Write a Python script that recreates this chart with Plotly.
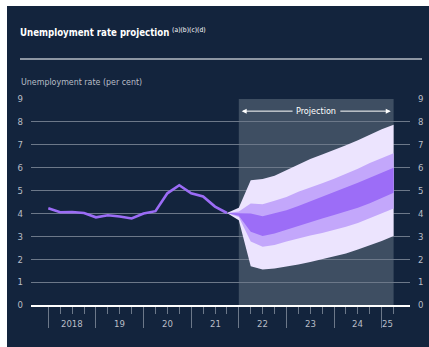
import plotly.graph_objects as go

# ---------------- data ----------------
hist_x = [2018.0, 2018.25, 2018.5, 2018.75, 2019.0, 2019.25, 2019.5, 2019.75,
          2020.0, 2020.25, 2020.5, 2020.75, 2021.0, 2021.25, 2021.5, 2021.75]
hist_rate = [4.23, 4.05, 4.06, 4.02, 3.83, 3.92, 3.87, 3.78,
             4.00, 4.10, 4.88, 5.23, 4.88, 4.74, 4.30, 4.02]

fan_x = [2021.75, 2022.0, 2022.25, 2022.5, 2022.75, 2023.0, 2023.25, 2023.5,
         2023.75, 2024.0, 2024.25, 2024.5, 2024.75, 2025.0, 2025.25]
outer_upper = [4.02, 4.25, 5.45, 5.50, 5.65, 5.90, 6.12, 6.38, 6.58, 6.77, 6.98, 7.20, 7.45, 7.68, 7.88]
middle_upper = [4.02, 4.08, 4.43, 4.40, 4.55, 4.72, 4.95, 5.12, 5.32, 5.52, 5.72, 5.95, 6.20, 6.42, 6.63]
inner_upper = [4.02, 4.00, 4.00, 3.88, 4.00, 4.14, 4.32, 4.52, 4.72, 4.94, 5.13, 5.34, 5.56, 5.78, 6.00]
inner_lower = [4.02, 3.90, 3.20, 3.02, 3.12, 3.28, 3.45, 3.62, 3.78, 3.93, 4.08, 4.25, 4.45, 4.67, 4.90]
middle_lower = [4.02, 3.85, 2.77, 2.55, 2.62, 2.77, 2.92, 3.04, 3.15, 3.28, 3.42, 3.58, 3.80, 4.00, 4.22]
outer_lower = [4.02, 3.70, 1.69, 1.55, 1.60, 1.67, 1.77, 1.88, 2.00, 2.12, 2.25, 2.42, 2.60, 2.80, 3.02]

year_ticks = [2018, 2019, 2020, 2021, 2022, 2023, 2024, 2025]
year_label_pos = [2018.5, 2019.5, 2020.5, 2021.5, 2022.5, 2023.5, 2024.5, 2025.125]
year_labels = ["2018", "19", "20", "21", "22", "23", "24", "25"]
quarter_ticks = [2018.25, 2018.5, 2018.75, 2019.25, 2019.5, 2019.75, 2020.25, 2020.5, 2020.75,
                 2021.25, 2021.5, 2021.75, 2022.25, 2022.5, 2022.75, 2023.25, 2023.5, 2023.75,
                 2024.25, 2024.5, 2024.75, 2025.25]
y_ticks = [0, 1, 2, 3, 4, 5, 6, 7, 8, 9]
projection_start, projection_end = 2022.0, 2025.25

# ---------------- style ----------------
NAVY = "#13243d"
SHADE = "#3e4e62"
GRID = "#6c7889"
TICKTXT = "#b9bec7"
OUTER_C = "#ece4fe"
MIDDLE_C = "#c3a7fb"
INNER_C = "#9c6df7"
LINE_C = "#9b6cf6"
FONT = "DejaVu Sans Condensed, Liberation Sans, sans-serif"

fig = go.Figure()


def band(upper, lower, color):
    fig.add_trace(go.Scatter(
        x=fan_x + fan_x[::-1], y=upper + lower[::-1],
        fill="toself", fillcolor=color, mode="lines",
        line=dict(width=0, color=color), hoverinfo="skip", showlegend=False))


band(outer_upper, outer_lower, OUTER_C)
band(middle_upper, middle_lower, MIDDLE_C)
band(inner_upper, inner_lower, INNER_C)

fig.add_trace(go.Scatter(x=hist_x, y=hist_rate, mode="lines",
                         line=dict(color=LINE_C, width=2.6), showlegend=False))
fig.add_trace(go.Scatter(x=[hist_x[0]], y=[hist_rate[0]], yaxis="y2", mode="markers",
                         marker=dict(opacity=0), showlegend=False, hoverinfo="skip"))

L, R, T, B = 31, 19, 99, 42
W, H = 429, 347
pw, ph = W - L - R, H - T - B


def px(xp):
    return (xp - L) / pw


def py(yp):
    return (H - B - yp) / ph


shapes = [
    dict(type="rect", xref="paper", yref="paper", x0=px(7), x1=px(440), y0=py(6), y1=py(360),
         fillcolor=NAVY, line=dict(width=0), layer="below"),
    dict(type="line", xref="paper", yref="paper", x0=px(20), x1=px(422), y0=py(59), y1=py(59),
         line=dict(color="#8d96a3", width=2)),
    dict(type="rect", xref="x", yref="y", x0=projection_start, x1=projection_end, y0=0, y1=9,
         fillcolor=SHADE, line=dict(width=0), layer="below"),
]

annotations = [
    dict(text="Unemployment rate (per cent)", xref="paper", yref="paper", x=px(19), y=py(82),
         xanchor="left", yanchor="middle", showarrow=False,
         font=dict(family=FONT, size=8.8, color=TICKTXT)),
    dict(text="Projection", xref="x", yref="y", x=(projection_start + projection_end) / 2, y=8.47,
         showarrow=False, font=dict(family=FONT, size=9, color="#ffffff")),
    dict(text="", xref="x", yref="y", axref="x", ayref="y", x=2022.06, y=8.47, ax=2023.16, ay=8.47,
         showarrow=True, arrowhead=2, arrowsize=1, arrowwidth=1, arrowcolor="#ffffff"),
    dict(text="", xref="x", yref="y", axref="x", ayref="y", x=2025.19, y=8.47, ax=2024.1, ay=8.47,
         showarrow=True, arrowhead=2, arrowsize=1, arrowwidth=1, arrowcolor="#ffffff"),
]
for pos, lab in zip(year_label_pos, year_labels):
    annotations.append(dict(text=lab, xref="x", yref="paper", x=pos, y=py(323),
                            showarrow=False, xanchor="center", yanchor="middle",
                            font=dict(family=FONT, size=9.5, color=TICKTXT)))

fig.update_layout(
    width=W, height=H,
    margin=dict(l=L, r=R, t=T, b=B, pad=0, autoexpand=False),
    paper_bgcolor="#ffffff",
    plot_bgcolor=NAVY,
    title=dict(text="<b>Unemployment rate projection</b> <sup>(a)(b)(c)(d)</sup>",
               xref="container", yref="container", x=20 / W, y=1 - 33 / H,
               xanchor="left", yanchor="middle", automargin=False,
               font=dict(family=FONT, size=9.6, color="#ffffff")),
    xaxis=dict(range=[2017.637, 2025.594], tickmode="array", tickvals=year_ticks, automargin=False,
               showticklabels=False, ticks="outside", ticklen=21, tickwidth=1, tickcolor=GRID,
               showgrid=False, zeroline=False, showline=True, linecolor="#ffffff", linewidth=2,
               minor=dict(tickmode="array", tickvals=quarter_ticks, ticks="outside", ticklen=7,
                          tickwidth=1, tickcolor=GRID, showgrid=False)),
    yaxis=dict(range=[0, 9], tickvals=y_ticks, showgrid=True, gridcolor=GRID, gridwidth=1,
               zeroline=False, ticks="", ticklabelstandoff=7, automargin=False,
               tickfont=dict(family=FONT, size=9.5, color=TICKTXT)),
    yaxis2=dict(range=[0, 9], tickvals=y_ticks, overlaying="y", side="right", showgrid=False,
                zeroline=False, ticks="", ticklabelstandoff=7, automargin=False,
                tickfont=dict(family=FONT, size=9.5, color=TICKTXT)),
    shapes=shapes,
    annotations=annotations,
    showlegend=False,
)

fig.write_html("out.html", config={"displayModeBar": False},
               post_script="document.body.style.margin='0px';")
